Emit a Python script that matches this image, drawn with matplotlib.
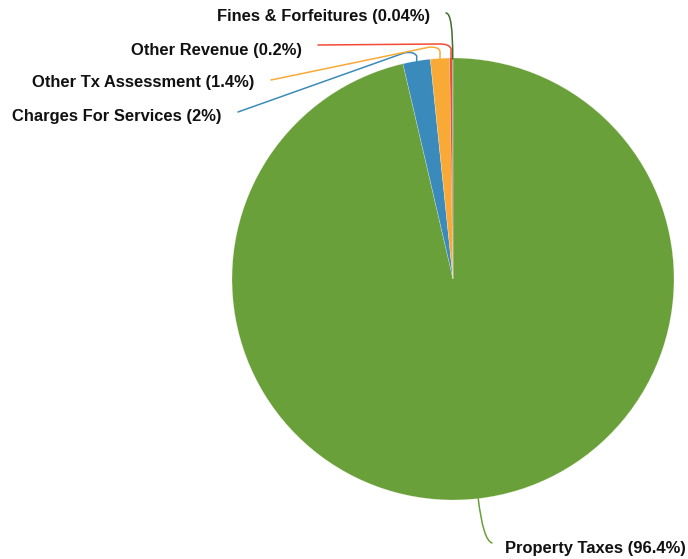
import numpy as np
import matplotlib.pyplot as plt
from matplotlib.path import Path
from matplotlib.patches import PathPatch

# Revenue breakdown
categories = ['Property Taxes', 'Charges For Services', 'Other Tx Assessment',
              'Other Revenue', 'Fines & Forfeitures']
shares = [96.4, 2, 1.4, 0.2, 0.04]
colors = ['#6aa039', '#3a8bbb', '#f9aa36', '#f24a35', '#3f6f2b']

W, H = 688, 559
fig = plt.figure(figsize=(W / 100, H / 100), dpi=100)
ax = fig.add_axes([0, 0, 1, 1])

cx, cy, r = 453, H - 279, 221
wedges, _ = ax.pie(shares, colors=colors, startangle=90, counterclock=False,
                   radius=r, center=(cx, cy), frame=True,
                   wedgeprops=dict(edgecolor=(1, 1, 1, 0.5), linewidth=0.3))
ax.set_xlim(0, W)
ax.set_ylim(0, H)
ax.set_aspect('equal')
ax.axis('off')


def edge_point(w, dr=0):
    ang = np.radians((w.theta1 + w.theta2) / 2)
    return cx + (r + dr) * np.cos(ang), cy + (r + dr) * np.sin(ang)


def px(x, y):
    return x, H - y


# label anchors (pixel coords, top-left origin), alignment, connector bend points
labels = [
    dict(pos=(505, 548), ha='left', bend=[(483, 540), (492, 543)]),
    dict(pos=(222, 116), ha='right', bend=[(414, 51), (404, 53), (238, 112)]),
    dict(pos=(254, 82), ha='right', bend=[(440, 47), (430, 47), (271, 80)]),
    dict(pos=(302, 50), ha='right', bend=[(450, 44), (440, 44), (318, 45)]),
    dict(pos=(430, 17), ha='right', bend=[(453, 13), (446, 13)]),
]

for w, name, val, col, lab in zip(wedges, categories, shares, colors, labels):
    sx, sy = edge_point(w, -1)
    pts = [(sx, sy)] + [px(*p) for p in lab['bend']]
    if len(pts) == 3:
        codes = [Path.MOVETO, Path.CURVE3, Path.CURVE3]
    else:
        # straight rise, rounded corner, then run to the label
        c = pts[1]
        pts = [pts[0], (pts[0][0], c[1] - 5), c, pts[2], pts[3]]
        codes = [Path.MOVETO, Path.LINETO, Path.CURVE3, Path.CURVE3, Path.LINETO]
    ax.add_patch(PathPatch(Path(pts, codes), fill=False, edgecolor=col,
                           linewidth=1.1, capstyle='round'))
    txt = f'{name} ({val:g}%)'
    ax.text(*px(*lab['pos']), txt, ha=lab['ha'], va='center',
            fontsize=11.9, fontweight='bold', family='Liberation Sans',
            color='#111111')

fig.savefig('out.png', dpi=100)
